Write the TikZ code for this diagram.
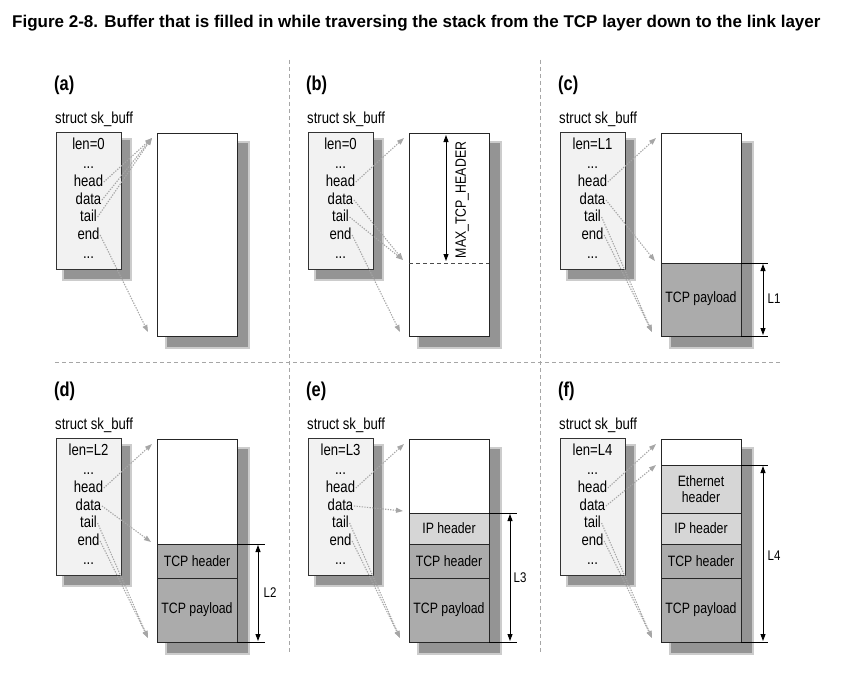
\documentclass[tikz,border=0pt]{standalone}
\usepackage{fontspec}
\setmainfont{Liberation Sans}
\newfontfamily\narrowfont[FakeStretch=0.82]{Liberation Sans}
\usetikzlibrary{arrows.meta}

\tikzset{
  panellabel/.style={font=\narrowfont\bfseries\fontsize{20}{22}\selectfont, anchor=west, inner sep=0pt},
  structname/.style={font=\narrowfont\fontsize{16}{18}\selectfont, anchor=west, inner sep=0pt},
  field/.style={font=\narrowfont\fontsize{16}{18}\selectfont, inner sep=0.5pt,
    text height=10pt, text depth=2pt},
  seclabel/.style={font=\narrowfont\fontsize{15}{17}\selectfont, inner sep=0pt, align=center},
  dimlabel/.style={font=\narrowfont\fontsize{14}{16}\selectfont, inner sep=0pt},
  structbox/.style={draw=black!80, fill=black!5, line width=0.8pt},
  bufbox/.style={draw=black!85, fill=white, line width=0.8pt},
  darksec/.style={draw=black!85, fill=black!33, line width=0.8pt},
  lightsec/.style={draw=black!85, fill=black!16, line width=0.8pt},
  ptr/.style={draw=black!35, line width=1.1pt, dash pattern=on 1.3pt off 1.3pt,
    -{Triangle[length=7pt,width=5pt,fill=black!35]}},
  dimarrow/.style={line width=0.9pt,
    {Triangle[length=7pt,width=5pt]}-{Triangle[length=7pt,width=5pt]}},
  extline/.style={line width=0.6pt},
  sepline/.style={draw=black!35, line width=1pt, dash pattern=on 4pt off 3pt}
}

% struct sk_buff box with its fields: name, x shift, y shift, len value
\newcommand{\skbstruct}[4]{%
  \begin{scope}[shift={(#2,#3)}]
    \node[panellabel] (#1-tag) at (54,85) {(#1)};
    \node[structname] (#1-title) at (55,119) {struct sk\_buff};
    \fill[black!20] (62,138) rectangle (132,281);
    \fill[black!42] (64,140) rectangle (130,279);
    \draw[structbox] (56,132) rectangle (121,269);
    \node[field] (#1-len) at (88.5,145) {len=#4};
    \node[field] (#1-dots) at (88.5,164) {...};
    \node[field] (#1-head) at (88.5,182) {head};
    \node[field] (#1-data) at (88.5,200) {data};
    \node[field] (#1-tail) at (88.5,217) {tail};
    \node[field] (#1-end) at (88.5,235) {end};
    \node[field] (#1-more) at (88.5,254) {...};
  \end{scope}}

% empty data buffer with its shadow: name, x shift, y shift
\newcommand{\skbdata}[3]{%
  \begin{scope}[shift={(#2,#3)}]
    \fill[black!20] (165,141) rectangle (250,349);
    \fill[black!42] (167,143) rectangle (248,347);
    \draw[bufbox] (157,133) rectangle (237,336);
    \coordinate (#1-top) at (152,138);
    \coordinate (#1-bot) at (148,332);
  \end{scope}}

\begin{document}
\begin{tikzpicture}[x=1pt, y=-1pt]
  \useasboundingbox[fill=white] (0,0) rectangle (860,677);

  % Title
  \node[anchor=west, inner sep=0pt, font=\bfseries\fontsize{17}{19}\selectfont] (title) at (12,23)
    {Figure 2-8. Buffer that is filled in while traversing the stack from the TCP layer down to the link layer};

  % Separators
  \draw[sepline] (289,60) -- (289,653);
  \draw[sepline] (540,60) -- (540,653);
  \draw[sepline] (55,362) -- (782,362);

  % (a) empty buffer
  \skbstruct{a}{0}{0}{0}
  \skbdata{a}{0}{0}
  \draw[ptr] (a-head.east) -- (a-top);
  \draw[ptr] (a-data.east) -- (a-top);
  \draw[ptr] (a-tail.east) -- (a-top);
  \draw[ptr] (a-end.east) -- (a-bot);

  % (b) room reserved for headers
  \skbstruct{b}{252}{0}{0}
  \skbdata{b}{252}{0}
  \draw[dash pattern=on 4pt off 3pt, line width=1pt, black!70] (409,263) -- (489,263);
  \coordinate (b-mark) at (403,260);
  \draw[dimarrow] (446,135) -- (446,261);
  \node[dimlabel, rotate=90, font=\narrowfont\fontsize{15}{17}\selectfont] (b-max) at (462,200) {MAX\_TCP\_HEADER};
  \draw[ptr] (b-head.east) -- (b-top);
  \draw[ptr] (b-data.east) -- (b-mark);
  \draw[ptr] (b-tail.east) -- (b-mark);
  \draw[ptr] (b-end.east) -- (b-bot);

  % (c) TCP payload
  \skbstruct{c}{504}{0}{L1}
  \skbdata{c}{504}{0}
  \draw[darksec] (661,263) rectangle (741,336);
  \node[seclabel] (c-pay) at (701,299) {TCP payload};
  \coordinate (c-mark) at (655,261);
  \draw[ptr] (c-head.east) -- (c-top);
  \draw[ptr] (c-data.east) -- (c-mark);
  \draw[ptr] (c-tail.east) -- (c-bot);
  \draw[ptr] (c-end.east) -- (c-bot);
  \draw[extline] (741,263) -- (768,263);
  \draw[extline] (741,336) -- (768,336);
  \draw[dimarrow] (763,264) -- (763,335);
  \node[dimlabel] (c-len) at (774,299) {L1};

  % (d) TCP header added
  \skbstruct{d}{0}{306}{L2}
  \skbdata{d}{0}{306}
  \draw[darksec] (157,578) rectangle (237,642);
  \draw[darksec] (157,544) rectangle (237,578);
  \node[seclabel] (d-tcph) at (197,561) {TCP header};
  \node[seclabel] (d-pay) at (197,610) {TCP payload};
  \coordinate (d-mark) at (151,542);
  \draw[ptr] (d-head.east) -- (d-top);
  \draw[ptr] (d-data.east) -- (d-mark);
  \draw[ptr] (d-tail.east) -- (d-bot);
  \draw[ptr] (d-end.east) -- (d-bot);
  \draw[extline] (237,544) -- (265,544);
  \draw[extline] (237,642) -- (265,642);
  \draw[dimarrow] (258,545) -- (258,641);
  \node[dimlabel] (d-len) at (270,593) {L2};

  % (e) IP header added
  \skbstruct{e}{252}{306}{L3}
  \skbdata{e}{252}{306}
  \draw[darksec] (409,578) rectangle (489,642);
  \draw[darksec] (409,544) rectangle (489,578);
  \draw[lightsec] (409,513) rectangle (489,544);
  \node[seclabel] (e-iph) at (449,528.5) {IP header};
  \node[seclabel] (e-tcph) at (449,561) {TCP header};
  \node[seclabel] (e-pay) at (449,610) {TCP payload};
  \coordinate (e-mark) at (403,511);
  \draw[ptr] (e-head.east) -- (e-top);
  \draw[ptr] (e-data.east) -- (e-mark);
  \draw[ptr] (e-tail.east) -- (e-bot);
  \draw[ptr] (e-end.east) -- (e-bot);
  \draw[extline] (489,513) -- (517,513);
  \draw[extline] (489,642) -- (517,642);
  \draw[dimarrow] (510,514) -- (510,641);
  \node[dimlabel] (e-len) at (520,578) {L3};

  % (f) Ethernet header added
  \skbstruct{f}{504}{306}{L4}
  \skbdata{f}{504}{306}
  \draw[darksec] (661,578) rectangle (741,642);
  \draw[darksec] (661,544) rectangle (741,578);
  \draw[lightsec] (661,513) rectangle (741,544);
  \draw[lightsec] (661,465) rectangle (741,513);
  \node[seclabel, font=\narrowfont\fontsize{15}{16}\selectfont] (f-eth) at (701,489) {Ethernet\\header};
  \node[seclabel] (f-iph) at (701,528.5) {IP header};
  \node[seclabel] (f-tcph) at (701,561) {TCP header};
  \node[seclabel] (f-pay) at (701,610) {TCP payload};
  \coordinate (f-mark) at (656,465);
  \draw[ptr] (f-head.east) -- (f-top);
  \draw[ptr] (f-data.east) -- (f-mark);
  \draw[ptr] (f-tail.east) -- (f-bot);
  \draw[ptr] (f-end.east) -- (f-bot);
  \draw[extline] (741,465) -- (768,465);
  \draw[extline] (741,642) -- (768,642);
  \draw[dimarrow] (763,466) -- (763,641);
  \node[dimlabel] (f-len) at (774,556) {L4};
\end{tikzpicture}
\end{document}
